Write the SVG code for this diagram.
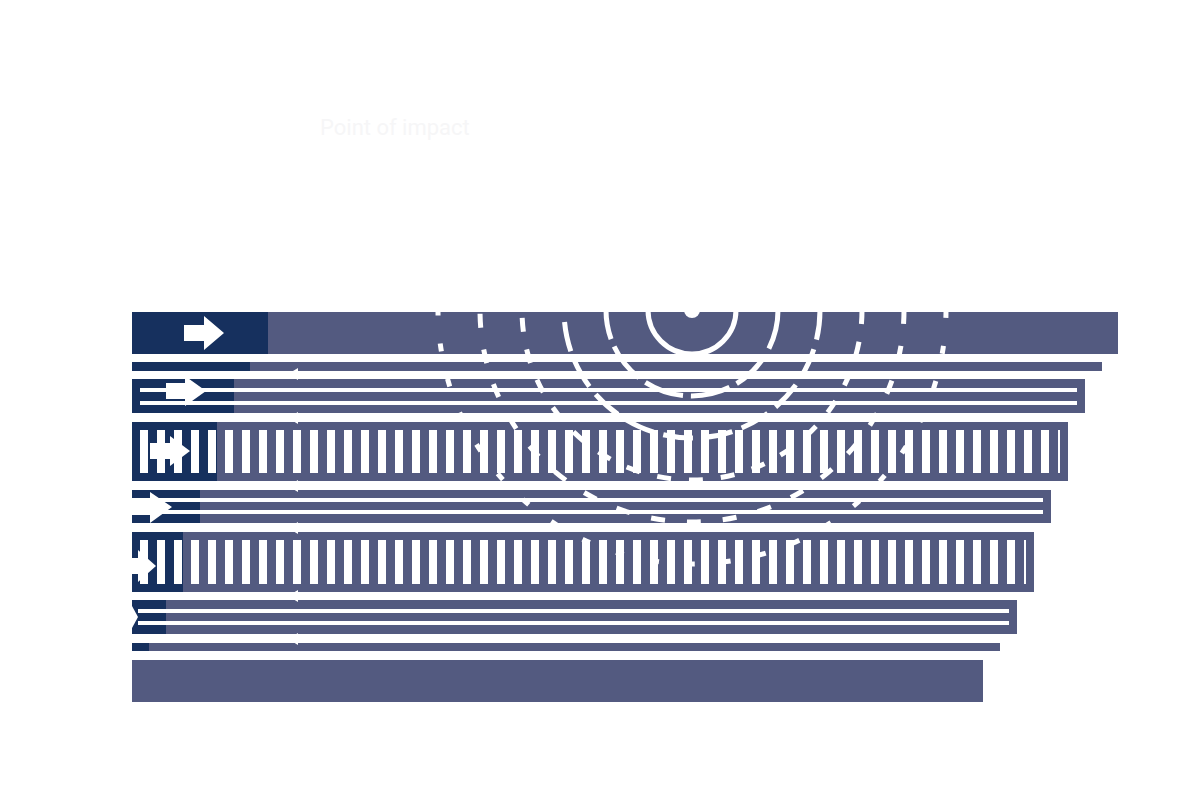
<svg xmlns="http://www.w3.org/2000/svg" width="1200" height="800" viewBox="0 0 1200 800">
<style>
.bar{fill:#535a80}.dk{fill:#16305e}.wl{stroke:#fff;stroke-width:4}
.ring{fill:none;stroke:#fff;stroke-width:5}
.ar{fill:#fff}
</style>
<defs>
<pattern id="st" x="132" y="0" width="17" height="800" patternUnits="userSpaceOnUse"><rect x="8" y="0" width="8" height="800" fill="#fff"/></pattern>
</defs>
<rect width="1200" height="800" fill="#fff"/>
<text x="320" y="135" font-family="Roboto, sans-serif" font-size="22" fill="#f6f6f7">Point of impact</text>
<g id="bar1"><rect class="bar" x="132" y="312" width="986" height="42"/><rect class="dk" x="132" y="312" width="136" height="42"/><polygon class="ar" points="184,325 204,325 204,316 224,333 204,350 204,341 184,341"/></g>
<g id="bar2"><rect class="bar" x="132" y="362" width="970" height="9"/><rect class="dk" x="132" y="362" width="118" height="9"/></g>
<g id="bar3"><rect class="bar" x="132" y="379" width="953" height="34"/><rect class="dk" x="132" y="379" width="102" height="34"/><line class="wl" x1="140" y1="390" x2="1077" y2="390"/><line class="wl" x1="140" y1="403" x2="1077" y2="403"/><polygon class="ar" points="166,383 185,383 185,376 206,391 185,406 185,399 166,399"/></g>
<g id="bar4"><rect class="bar" x="132" y="422" width="936" height="59"/><rect class="dk" x="132" y="422" width="85" height="59"/><rect x="140" y="430" width="920" height="43" fill="url(#st)"/><polygon class="ar" points="150,443 170,443 170,436 190,451 170,466 170,459 150,459"/></g>
<g id="bar5"><rect class="bar" x="132" y="490" width="919" height="33"/><rect class="dk" x="132" y="490" width="68" height="33"/><line class="wl" x1="132" y1="500" x2="1043" y2="500"/><line class="wl" x1="132" y1="512" x2="1043" y2="512"/><polygon class="ar" points="132,499 150,499 150,492 172,507 150,523 150,515 132,515"/></g>
<g id="bar6"><rect class="bar" x="132" y="532" width="902" height="60"/><rect class="dk" x="132" y="532" width="51" height="60"/><rect x="136" y="540" width="890" height="44" fill="url(#st)"/><polygon class="ar" points="118,558 138,558 138,550 156,566 138,582 138,574 118,574"/></g>
<g id="bar7"><rect class="bar" x="132" y="600" width="885" height="34"/><rect class="dk" x="132" y="600" width="34" height="34"/><line class="wl" x1="138" y1="611" x2="1009" y2="611"/><line class="wl" x1="138" y1="623" x2="1009" y2="623"/><polygon class="ar" points="138,617 132,606 132,628"/></g>
<g id="bar8"><rect class="bar" x="132" y="643" width="868" height="8"/><rect class="dk" x="132" y="643" width="17" height="8"/></g>
<g id="bar9"><rect class="bar" x="132" y="660" width="851" height="42"/></g>
<g id="connectors">
<polygon class="ar" points="288,374 298,368 298,380"/><polygon class="ar" points="288,418 298,412 298,424"/><polygon class="ar" points="288,486 298,480 298,492"/><polygon class="ar" points="288,528 298,522 298,534"/><polygon class="ar" points="288,596 298,590 298,602"/><polygon class="ar" points="288,639 298,633 298,645"/>
</g>
<g id="rings">
<circle cx="692" cy="310" r="8" fill="#fff"/>
<circle class="ring" cx="692" cy="310" r="44"/>
<circle class="ring" cx="692" cy="310" r="86" stroke-dasharray="40 8"/>
<circle class="ring" cx="692" cy="310" r="128" stroke-dasharray="30 10"/>
<circle class="ring" cx="692" cy="310" r="170" stroke-dasharray="14 18"/>
<circle class="ring" cx="692" cy="310" r="212" stroke-dasharray="14 22"/>
<circle class="ring" cx="692" cy="310" r="254" stroke-dasharray="8 28"/>
</g>
</svg>
